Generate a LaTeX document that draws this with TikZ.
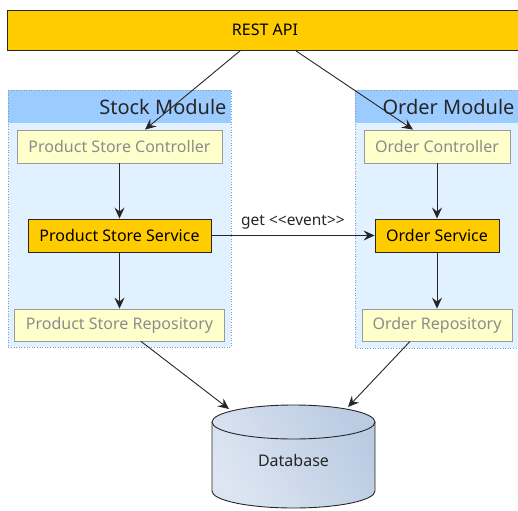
\documentclass[tikz,border=0pt]{standalone}
\usepackage{fontspec}
\setmainfont{Noto Sans}
\usetikzlibrary{arrows.meta,positioning}
\definecolor{gold}{HTML}{FFCC00}
\definecolor{modbg}{HTML}{E2F1FF}
\definecolor{modhead}{HTML}{9CCCFF}
\definecolor{modborder}{HTML}{7A9CC8}
\definecolor{pale}{HTML}{FFFFCC}
\definecolor{palebord}{HTML}{9A9A9A}
\definecolor{paletext}{HTML}{8C8C8C}
\definecolor{dbA}{HTML}{DDE5F2}
\definecolor{dbB}{HTML}{BACBE2}
\tikzset{
  arr/.style={draw=black!85, line width=0.9pt, -{Stealth[length=11pt,width=10pt,inset=4pt]}},
  palebox/.style={draw=palebord, fill=pale, line width=0.8pt, text=paletext, font=\fontsize{16}{18}\selectfont, inner sep=0pt},
  goldbox/.style={draw=black!85, fill=gold, line width=0.9pt, text=black, font=\fontsize{16}{18}\selectfont, inner sep=0pt},
  modframe/.style={draw=modborder, dotted, line width=0.6pt},
  modtitle/.style={font=\fontsize{20}{22}\selectfont, text=black!85, anchor=east}
}
\begin{document}
\begin{tikzpicture}[x=1pt,y=-1pt]
\useasboundingbox (0,0) rectangle (518,510);
% REST API
\node[draw=black!85, fill=gold, line width=0.9pt, minimum width=520pt, minimum height=40pt, anchor=north west, inner sep=0pt] (api) at (7,10) {};
\node[font=\fontsize{16}{18}\selectfont] (apitext) at (265,30) {REST API};
% Stock module
\fill[modbg] (8,90) rectangle (231,347);
\fill[modhead] (8,90) rectangle (231,123);
\draw[modframe] (8,90) rectangle (231,347);
\node[modtitle] (stocktitle) at (230,107) {Stock Module};
% Order module
\fill[modbg] (355,90) rectangle (520,348);
\fill[modhead] (355,90) rectangle (520,123);
\draw[modframe] (355,90) rectangle (520,348);
\node[modtitle] (ordertitle) at (518,107) {Order Module};
% Stock nodes
\node[palebox, minimum width=205pt, minimum height=33pt] (psc) at (119.5,146.5) {Product Store Controller};
\node[goldbox, minimum width=183pt, minimum height=33pt] (pss) at (119.5,235.5) {Product Store Service};
\node[palebox, minimum width=210pt, minimum height=32pt] (psr) at (119.5,325) {Product Store Repository};
% Order nodes
\node[palebox, minimum width=146pt, minimum height=33pt] (oc) at (437,146.5) {Order Controller};
\node[goldbox, minimum width=124pt, minimum height=33pt] (os) at (437,235.5) {Order Service};
\node[palebox, minimum width=150pt, minimum height=32pt] (orr) at (437,325) {Order Repository};
% Database
\shade[left color=dbA, right color=dbB, shading angle=120]
  (212,422) -- (212,491) arc[start angle=180,end angle=0,x radius=81.5,y radius=17] -- (375,422) arc[start angle=0,end angle=-180,x radius=81.5,y radius=17] -- cycle;
\draw[line width=0.9pt, black!85]
  (212,422) -- (212,491) arc[start angle=180,end angle=0,x radius=81.5,y radius=17] -- (375,422);
\draw[line width=0.9pt, black!85] (293.5,422) ellipse[x radius=81.5, y radius=17];
\node[font=\fontsize{16}{18}\selectfont, text=black!85] (db) at (293.5,460) {Database};
\coordinate (dbL) at (229,409);
\coordinate (dbR) at (348,407);
% Connectors
\draw[arr] (api.south -| 240,0) -- (psc.north -| 145,0);
\draw[arr] (api.south -| 296,0) -- (oc.north -| 413,0);
\draw[arr] (psc) -- (pss);
\draw[arr] (pss) -- (psr);
\draw[arr] (oc) -- (os);
\draw[arr] (os) -- (orr);
\draw[arr] (pss.east) -- node[above=2pt, font=\fontsize{15.5}{17}\selectfont, text=black!85] (evt) {get <{}<event>{}>} (os.west);
\draw[arr] (psr.south -| 141,0) -- (dbL);
\draw[arr] (orr.south -| 410,0) -- (dbR);
\end{tikzpicture}
\end{document}
